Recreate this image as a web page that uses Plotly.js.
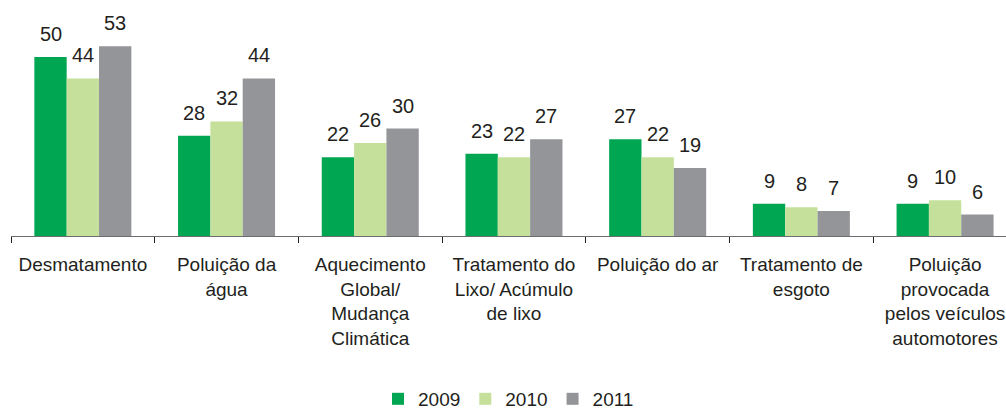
<!DOCTYPE html>
<html>
<head>
<meta charset="utf-8">
<script src="https://cdn.plot.ly/plotly-3.0.1.min.js"></script>
<style>html,body{margin:0;padding:0;background:#fff;}#chart{width:1006px;height:418px;}</style>
</head>
<body>
<div id="chart"></div>
<script>
const categories = [
  "Desmatamento",
  "Poluição da<br>água",
  "Aquecimento<br>Global/<br>Mudança<br>Climática",
  "Tratamento do<br>Lixo/ Acúmulo<br>de lixo",
  "Poluição do ar",
  "Tratamento de<br>esgoto",
  "Poluição<br>provocada<br>pelos veículos<br>automotores"
];
const seriesNames = ["2009", "2010", "2011"];
const values2009 = [50, 28, 22, 23, 27, 9, 9];
const values2010 = [44, 32, 26, 22, 22, 8, 10];
const values2011 = [53, 44, 30, 27, 19, 7, 6];

const allValues = [values2009, values2010, values2011];
const colors = ["#00A651", "#C5E09B", "#939598"];
const FONT = "Liberation Sans, Arial, sans-serif";
const TXT = "#231F20";
const bargap = 0.325;
const bw = (1 - bargap) / 3;

const traces = allValues.map((vals, k) => ({
  type: "bar",
  name: seriesNames[k],
  x: categories,
  y: vals,
  marker: {color: colors[k]},
  hoverinfo: "skip"
}));

const annotations = [];
allValues.forEach((vals, k) => {
  vals.forEach((v, i) => {
    annotations.push({
      x: i + (k - 1) * bw,
      y: v,
      xref: "x", yref: "y",
      text: String(v),
      showarrow: false,
      xanchor: "center",
      yanchor: "bottom",
      yshift: 10,
      font: {family: FONT, size: 20, color: TXT}
    });
  });
});

const layout = {
  width: 1006,
  height: 418,
  margin: {l: 11, r: 0, t: 0, b: 182, pad: 0, autoexpand: false},
  paper_bgcolor: "#fff",
  plot_bgcolor: "#fff",
  barmode: "group",
  bargap: bargap,
  bargroupgap: 0,
  showlegend: true,
  legend: {
    orientation: "h",
    x: 0.5, xanchor: "center",
    y: -0.771, yanchor: "bottom",
    font: {family: FONT, size: 19, color: TXT},
    traceorder: "normal",
    itemwidth: 30
  },
  xaxis: {
    type: "category",
    range: [-0.5, 6.424],
    tickson: "boundaries",
    ticks: "outside",
    ticklen: 6,
    tickwidth: 1,
    tickcolor: "#231F20",
    tickangle: 0,
    showline: true,
    linecolor: "#6D6E71",
    linewidth: 1,
    showgrid: false,
    automargin: false,
    tickfont: {family: FONT, size: 19, color: TXT},
    ticklabelstandoff: 11,
    fixedrange: true
  },
  yaxis: {
    range: [0, 65.9],
    visible: false,
    showgrid: false,
    zeroline: false,
    fixedrange: true
  },
  annotations: annotations
};

Plotly.newPlot("chart", traces, layout, {displayModeBar: false, staticPlot: true});
</script>
</body>
</html>
